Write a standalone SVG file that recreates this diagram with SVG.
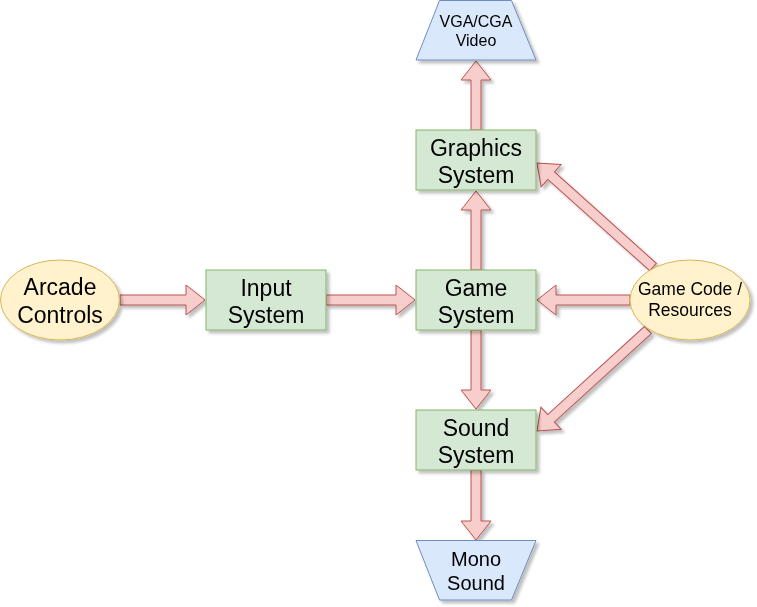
<svg xmlns="http://www.w3.org/2000/svg" width="757" height="607" viewBox="0 0 757 607">
<defs>
<filter id="sh" x="-20%" y="-20%" width="150%" height="150%">
<feGaussianBlur in="SourceAlpha" stdDeviation="1.7"/>
<feOffset dx="3" dy="3" result="o"/>
<feComponentTransfer><feFuncA type="linear" slope="0.25"/></feComponentTransfer>
<feMerge><feMergeNode/><feMergeNode in="SourceGraphic"/></feMerge>
</filter>
<style>
.box{fill:#d5e8d4;stroke:#82b366;stroke-width:1}
.ell{fill:#fff2cc;stroke:#d6b656;stroke-width:1}
.trap{fill:#dae8fc;stroke:#6c8ebf;stroke-width:1}
.arr{fill:#f8cecc;stroke:#b85450;stroke-width:1;stroke-linejoin:miter}
text{font-family:"Liberation Sans",Arial,sans-serif;fill:#000;text-anchor:middle}
.t23{font-size:23px}
.t20{font-size:20px}
.t17{font-size:17.5px}
.t16{font-size:16px}
</style>
</defs>
<rect width="757" height="607" fill="#ffffff"/>
<g id="connectors" filter="url(#sh)">
<polygon class="arr" points="120,295 186,295 186,285 205,300 186,315 186,305 120,305"/>
<polygon class="arr" points="326,295 396,295 396,285 415,300 396,315 396,305 326,305"/>
<polygon class="arr" points="630,295 556,295 556,285 537,300 556,315 556,305 630,305"/>
<polygon class="arr" points="471,270 471,210 461,210 476,191 491,210 481,210 481,270"/>
<polygon class="arr" points="471,130 471,80 461,80 476,61 491,80 481,80 481,130"/>
<polygon class="arr" points="471,330 471,390 461,390 476,409 491,390 481,390 481,330"/>
<polygon class="arr" points="471,470 471,521 461,521 476,540 491,521 481,521 481,470"/>
<polygon class="arr" transform="translate(653,267) rotate(-138.12)" points="0,-5 136.8,-5 136.8,-15 155.8,0 136.8,15 136.8,5 0,5"/>
<polygon class="arr" transform="translate(648,330) rotate(137.7)" points="0,-5 131.1,-5 131.1,-15 150.1,0 131.1,15 131.1,5 0,5"/>
</g>
<g id="vga" filter="url(#sh)">
<polygon class="trap" points="439.5,0.5 511.5,0.5 536,60 416,60"/>
<text class="t16" x="476" y="27">VGA/CGA</text>
<text class="t16" x="476" y="46">Video</text>
</g>
<g id="graphics" filter="url(#sh)">
<rect class="box" x="416" y="130" width="120" height="60"/>
<text class="t23" x="476" y="156">Graphics</text>
<text class="t23" x="476" y="183">System</text>
</g>
<g id="arcade" filter="url(#sh)">
<ellipse class="ell" cx="60" cy="300" rx="59.5" ry="40"/>
<text class="t23" x="60" y="295">Arcade</text>
<text class="t23" x="60" y="322.5">Controls</text>
</g>
<g id="input" filter="url(#sh)">
<rect class="box" x="206" y="270" width="120" height="60"/>
<text class="t23" x="266" y="296">Input</text>
<text class="t23" x="266" y="323">System</text>
</g>
<g id="game" filter="url(#sh)">
<rect class="box" x="416" y="270" width="120" height="60"/>
<text class="t23" x="476" y="296">Game</text>
<text class="t23" x="476" y="323">System</text>
</g>
<g id="gamecode" filter="url(#sh)">
<ellipse class="ell" cx="690" cy="300" rx="60" ry="40"/>
<text class="t17" x="690" y="295">Game Code /</text>
<text class="t17" x="690" y="316">Resources</text>
</g>
<g id="sound" filter="url(#sh)">
<rect class="box" x="416" y="410" width="120" height="60"/>
<text class="t23" x="476" y="436">Sound</text>
<text class="t23" x="476" y="463">System</text>
</g>
<g id="mono" filter="url(#sh)">
<polygon class="trap" points="416,540.5 536,540.5 511.5,600 439.5,600"/>
<text class="t20" x="476" y="566">Mono</text>
<text class="t20" x="476" y="590">Sound</text>
</g>
</svg>
